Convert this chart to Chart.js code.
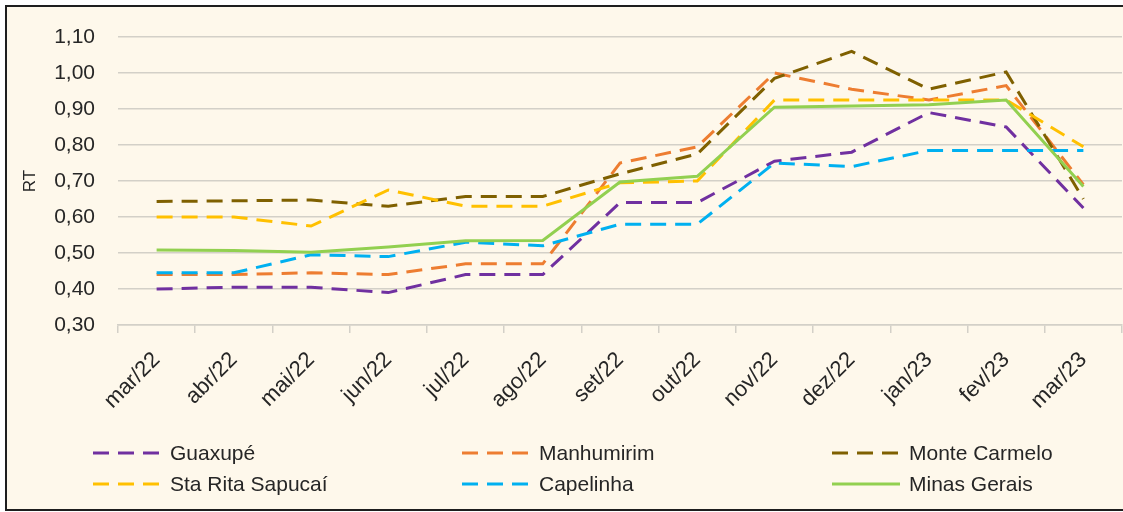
<!DOCTYPE html>
<html>
<head>
<meta charset="utf-8">
<script src="https://cdn.jsdelivr.net/npm/chart.js@4/dist/chart.umd.min.js"></script>
<style>
  html, body { margin: 0; padding: 0; background: #fff; overflow: hidden; }
  #frame {
    position: absolute; left: 5px; top: 5px;
    width: 1130px; height: 502px;
    border: 2px solid #1e1e1e;
    background: #fef8eb;
    overflow: hidden;
  }
  #chart { display: block; }
</style>
</head>
<body>
<div id="frame"><canvas id="chart" width="1116" height="502"></canvas></div>
<script>
const MONTHS = ["mar/22", "abr/22", "mai/22", "jun/22", "jul/22", "ago/22", "set/22",
  "out/22", "nov/22", "dez/22", "jan/23", "fev/23", "mar/23"]

const GUAXUPE       = [0.400, 0.405, 0.405, 0.390, 0.440, 0.440, 0.640, 0.640, 0.755, 0.780, 0.890, 0.850, 0.625]
const MANHUMIRIM    = [0.440, 0.440, 0.445, 0.440, 0.470, 0.470, 0.750, 0.795, 1.000, 0.955, 0.925, 0.965, 0.690]
const MONTE_CARMELO = [0.643, 0.645, 0.647, 0.630, 0.657, 0.657, 0.720, 0.775, 0.985, 1.060, 0.955, 1.003, 0.650]
const STA_RITA      = [0.600, 0.600, 0.575, 0.675, 0.630, 0.630, 0.695, 0.700, 0.925, 0.925, 0.925, 0.925, 0.795]
const CAPELINHA     = [0.445, 0.445, 0.495, 0.490, 0.530, 0.520, 0.580, 0.580, 0.750, 0.740, 0.785, 0.785, 0.785]
const MINAS_GERAIS  = [0.508, 0.507, 0.502, 0.517, 0.534, 0.535, 0.697, 0.713, 0.905, 0.908, 0.912, 0.925, 0.685]

const Y_TICKS = [0.3, 0.4, 0.5, 0.6, 0.7, 0.8, 0.9, 1.0, 1.1]

const SERIES = [
  { label: "Guaxupé",          data: GUAXUPE,       color: "#7030a0", dash: [16, 9] },
  { label: "Manhumirim",       data: MANHUMIRIM,    color: "#ed7d31", dash: [16, 9] },
  { label: "Monte Carmelo",    data: MONTE_CARMELO, color: "#7f6000", dash: [16, 9] },
  { label: "Sta Rita Sapucaí", data: STA_RITA,      color: "#ffc000", dash: [16, 9] },
  { label: "Capelinha",        data: CAPELINHA,     color: "#00b0f0", dash: [16, 9] },
  { label: "Minas Gerais",     data: MINAS_GERAIS,  color: "#92d050", dash: [] },
]

const FONT = "'Liberation Sans', Arial, sans-serif"
const TEXT = "#262626"
const GRID = "#d3d0c8"

// legend in a 3 x 2 grid below the axis, like the spreadsheet export
const gridLegend = {
  id: "gridLegend",
  afterDraw(chart) {
    const ctx = chart.ctx
    const colX = [86, 455, 825]
    const rowY = [446, 477]
    ctx.save()
    ctx.font = "21px " + FONT
    ctx.textBaseline = "middle"
    ctx.fillStyle = TEXT
    chart.data.datasets.forEach((ds, i) => {
      const x = colX[i % 3]
      const y = rowY[Math.floor(i / 3)]
      ctx.beginPath()
      ctx.strokeStyle = ds.borderColor
      ctx.lineWidth = 3
      ctx.setLineDash(ds.borderDash)
      ctx.moveTo(x, y)
      ctx.lineTo(x + 68, y)
      ctx.stroke()
      ctx.setLineDash([])
      ctx.fillText(ds.label, x + 77, y + 1)
    })
    ctx.restore()
  },
}

new Chart(document.getElementById("chart"), {
  type: "line",
  data: {
    labels: MONTHS,
    datasets: SERIES.map((s, i) => ({
      label: s.label,
      data: s.data,
      borderColor: s.color,
      backgroundColor: s.color,
      borderDash: s.dash,
      borderWidth: 3,
      pointRadius: 0,
      tension: 0,
      fill: false,
      order: SERIES.length - i,
    })),
  },
  options: {
    responsive: false,
    animation: false,
    layout: { padding: { top: 30, right: 1, bottom: 94, left: 0 } },
    plugins: {
      legend: { display: false },
      tooltip: { enabled: false },
    },
    scales: {
      x: {
        offset: true,
        grid: { drawOnChartArea: false, drawTicks: true, tickLength: 8, color: GRID, lineWidth: 1.5, offset: true },
        border: { display: true, color: GRID, width: 1.5 },
        ticks: {
          color: TEXT, font: { family: FONT, size: 22 },
          minRotation: 45, maxRotation: 45, padding: 14, autoSkip: false,
        },
        afterFit: (scale) => { scale.height = 90 },
      },
      y: {
        min: 0.3, max: 1.1,
        afterBuildTicks: (scale) => { scale.ticks = Y_TICKS.map(v => ({ value: v })) },
        grid: { color: GRID, lineWidth: 1.5, drawTicks: false },
        border: { display: false },
        ticks: {
          color: TEXT, font: { family: FONT, size: 21 }, padding: 23,
          callback: (v) => v.toFixed(2).replace(".", ","),
        },
        title: { display: true, text: "RT", color: TEXT, font: { family: FONT, size: 17 }, padding: { top: 13, bottom: 0 } },
        // tick padding also pads top/bottom in chart.js, drop that
        afterFit: (scale) => {
          scale.width = 111
          scale.paddingTop = 0
          scale.paddingBottom = 0
        },
      },
    },
  },
  plugins: [gridLegend],
})
</script>
</body>
</html>
